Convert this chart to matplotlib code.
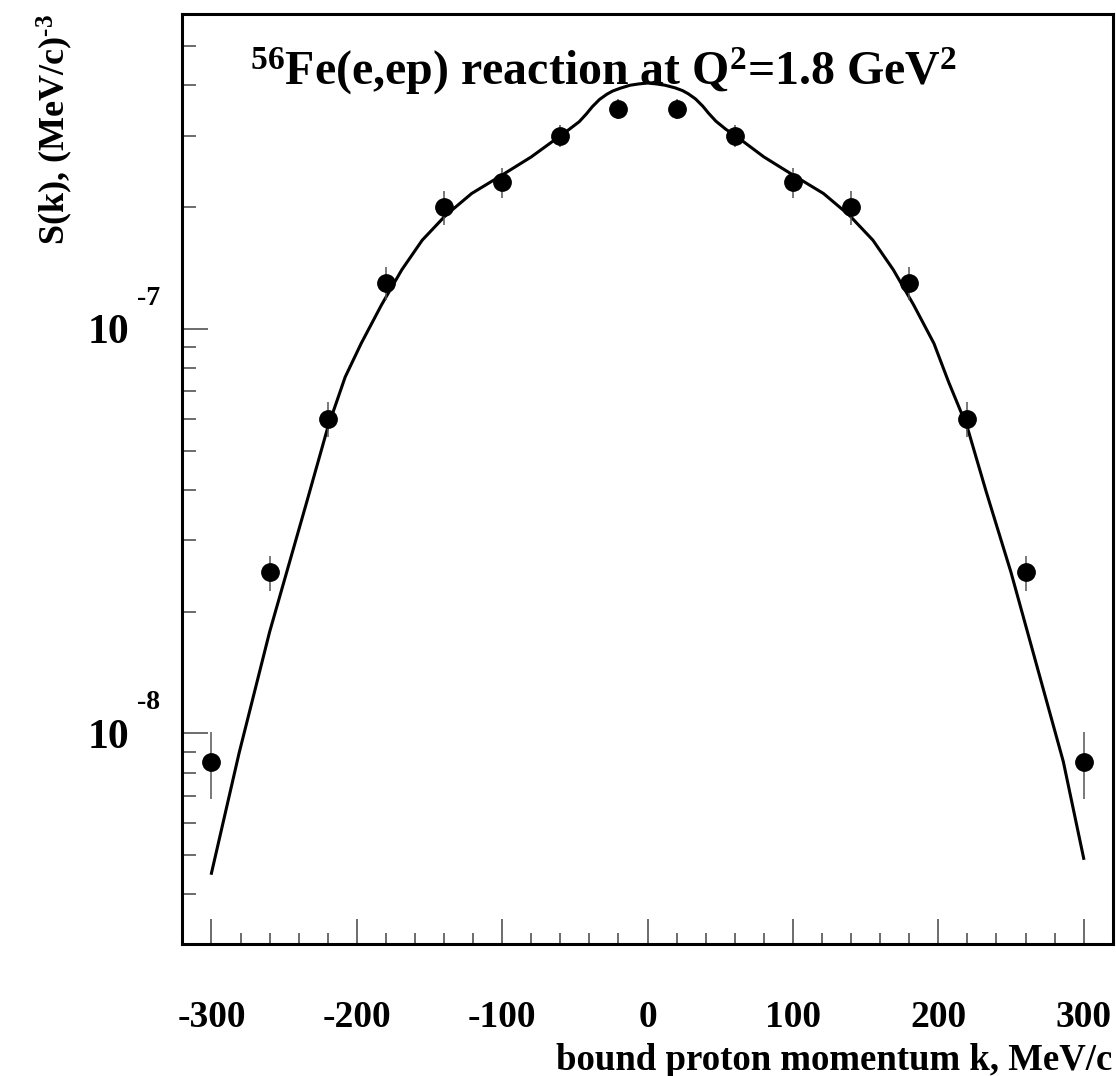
import numpy as np
import matplotlib
matplotlib.use("Agg")
import matplotlib.pyplot as plt
from matplotlib.ticker import FixedLocator, LogLocator, NullFormatter, FuncFormatter

# bold Times-like text everywhere, also inside mathtext
plt.rcParams['font.family'] = 'Liberation Serif'
plt.rcParams['font.weight'] = 'bold'
plt.rcParams['mathtext.fontset'] = 'custom'
plt.rcParams['mathtext.rm'] = 'Liberation Serif:bold'
plt.rcParams['mathtext.it'] = 'Liberation Serif:bold:italic'
plt.rcParams['mathtext.bf'] = 'Liberation Serif:bold'

#%% data

# measured S(k) points
k_data = [-300, -260, -220, -180, -140, -100, -60, -20,
          20, 60, 100, 140, 180, 220, 260, 300]
s_data = [8.5e-9, 2.5e-8, 6.0e-8, 1.30e-7, 2.0e-7, 2.3e-7, 3.0e-7, 3.5e-7,
          3.5e-7, 3.0e-7, 2.3e-7, 2.0e-7, 1.30e-7, 6.0e-8, 2.5e-8, 8.5e-9]
s_err = [1.6e-9, 2.5e-9, 6.0e-9, 1.25e-8, 1.9e-8, 2.0e-8, 1.9e-8, 2.0e-8,
         2.0e-8, 1.9e-8, 2.0e-8, 1.9e-8, 1.25e-8, 6.0e-9, 2.5e-9, 1.6e-9]

# calculated momentum distribution
k_calc = [-300, -281, -260, -234, -220, -208, -197, -183, -169, -155, -139,
          -121, -100, -80, -60, -54, -47, -42, -38, -33, -28, -24, -19, -12,
          -6, 0,
          6, 12, 19, 24, 28, 33, 38, 42, 47, 54, 60,
          80, 100, 121, 139, 155, 169, 183, 197, 207, 220, 233, 250, 286, 300]
s_calc = [4.51e-9, 8.93e-9, 1.78e-8, 3.78e-8, 5.70e-8, 7.60e-8, 9.20e-8,
          1.146e-7, 1.40e-7, 1.656e-7, 1.905e-7,
          2.16e-7, 2.40e-7, 2.66e-7, 3.00e-7, 3.11e-7, 3.25e-7, 3.40e-7,
          3.54e-7, 3.69e-7, 3.80e-7, 3.87e-7, 3.93e-7, 4.00e-7,
          4.03e-7, 4.05e-7,
          4.03e-7, 4.00e-7, 3.94e-7, 3.88e-7, 3.81e-7, 3.70e-7, 3.55e-7,
          3.41e-7, 3.26e-7, 3.11e-7, 3.01e-7,
          2.66e-7, 2.40e-7, 2.16e-7, 1.905e-7, 1.656e-7, 1.40e-7, 1.146e-7,
          9.20e-8, 7.40e-8, 5.70e-8, 3.95e-8, 2.50e-8, 8.51e-9, 4.91e-9]

x_major = [-300, -200, -100, 0, 100, 200, 300]
y_major = [1e-8, 1e-7]

#%% figure

fig = plt.figure(figsize=(11.16, 10.76), dpi=100)
ax = fig.add_axes([0.1634, 0.1224, 0.8337, 0.8646])

ax.plot(k_calc, s_calc, color='black', lw=2.2, zorder=2)
ax.errorbar(k_data, s_data, yerr=s_err, fmt='o', color='black', ms=12.5,
            ecolor='#555555', elinewidth=1.1, capsize=0, zorder=3)

ax.set_yscale('log')
ax.set_xlim(-320, 320)
ax.set_ylim(3.01e-9, 6.0e-7)

for side in ['left', 'bottom', 'top', 'right']:
    ax.spines[side].set_linewidth(2.2)

ax.xaxis.set_major_locator(FixedLocator(x_major))
ax.xaxis.set_minor_locator(FixedLocator(np.arange(-300, 301, 20)))
ax.yaxis.set_major_locator(FixedLocator(y_major))
ax.yaxis.set_minor_locator(LogLocator(base=10, subs=np.arange(2, 10)))
ax.yaxis.set_minor_formatter(NullFormatter())

ax.xaxis.set_major_formatter(FuncFormatter(lambda v, p: '%d' % v))
ax.yaxis.set_major_formatter(FuncFormatter(lambda v, p: '10'))

ax.tick_params(axis='both', which='both', direction='in', color='#444444',
               top=False, right=False)
ax.tick_params(axis='x', which='major', length=18, width=1.1, pad=40,
               labelsize=27)
ax.tick_params(axis='x', which='minor', length=8, width=1.1)
ax.tick_params(axis='y', which='major', length=19, width=1.1, pad=38,
               labelsize=30)
ax.tick_params(axis='y', which='minor', length=10, width=1.1)

# raised exponents next to the "10" labels
for v in y_major:
    ax.annotate('%d' % round(np.log10(v)), xy=(0, v),
                xycoords=('axes fraction', 'data'), xytext=(-16, 22),
                textcoords='offset points', ha='right', va='center',
                fontsize=20)

ax.text(0.073, 0.924, r'$^{56}$Fe(e,ep) reaction at Q$^{2}$=1.8 GeV$^{2}$',
        transform=ax.transAxes, fontsize=34.5, ha='left', va='baseline')

fig.text(0.997, 1 - 1060 / 1076, 'bound proton momentum k, MeV/c',
         fontsize=26.5, ha='right', va='center')
fig.text(55 / 1116, 1 - 14 / 1076, 'S(k), (MeV/c)$^{\u2010 3}$',
         fontsize=26, rotation=90, ha='center', va='top')

fig.savefig('out.png', dpi=100)
